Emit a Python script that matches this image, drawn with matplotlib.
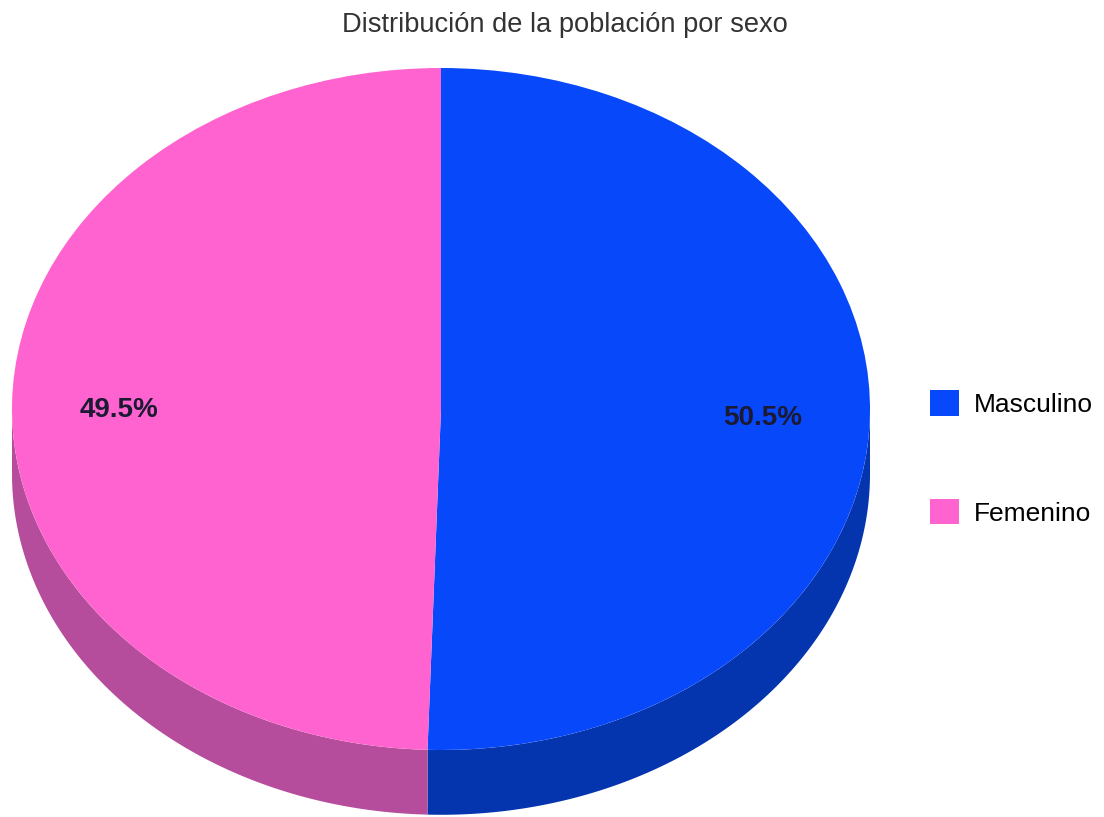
import numpy as np
import matplotlib
matplotlib.use("Agg")
import matplotlib.pyplot as plt

plt.rcParams["font.family"] = ["Liberation Sans", "DejaVu Sans"]

title = "Distribución de la población por sexo"
labels = ["Masculino", "Femenino"]
values = [50.5, 49.5]
top_colors = ["#0648FA", "#FF63CF"]
side_colors = ["#0434AE", "#B64C9C"]

depth = 0.19  # thickness of the pie, in y data units

fig = plt.figure(figsize=(11.04, 8.17), dpi=100)
ax = fig.add_axes([0, 0, 1, 1])

wedges, texts, autotexts = ax.pie(
    values,
    colors=top_colors,
    startangle=90,
    counterclock=False,
    autopct="%.1f%%",
    pctdistance=0.75,
    wedgeprops=dict(linewidth=0),
    textprops=dict(fontsize=20, fontweight="bold", color="#1c1a33"),
)
for w in wedges:
    w.set_zorder(2)
for t in autotexts:
    t.set_zorder(3)
    # labels sit a touch lower in the reference
    x, y = t.get_position()
    t.set_position((x, y - 0.015))

# side of the 3d pie: only the front half (sin < 0) shows
for w, c in zip(wedges, side_colors):
    for k in (-360, 0, 360):
        a = max(w.theta1, -180 + k)
        b = min(w.theta2, 0 + k)
        if b <= a:
            continue
        t = np.radians(np.linspace(a, b, 200))
        xs = np.concatenate([np.cos(t), np.cos(t[::-1])])
        ys = np.concatenate([np.sin(t), np.sin(t[::-1]) - depth])
        ax.fill(xs, ys, color=c, linewidth=0, zorder=1)

ax.set_aspect("auto")
ax.set_xlim(-441 / 429, (1104 - 441) / 429)
ax.set_ylim((409 - 817) / 341, 409 / 341)
ax.axis("off")

fig.text(565 / 1104, 1 - 25 / 817, title, ha="center", va="center",
         fontsize=19.6, color="#333333")

fig.legend(
    wedges, labels,
    loc="center left",
    bbox_to_anchor=(930 / 1104, 1 - 458 / 817),
    frameon=False,
    fontsize=19,
    handlelength=1.1,
    handleheight=1.1,
    handletextpad=0.55,
    labelspacing=3.1,
    borderpad=0,
    borderaxespad=0,
)

fig.savefig("out.png", dpi=100)
